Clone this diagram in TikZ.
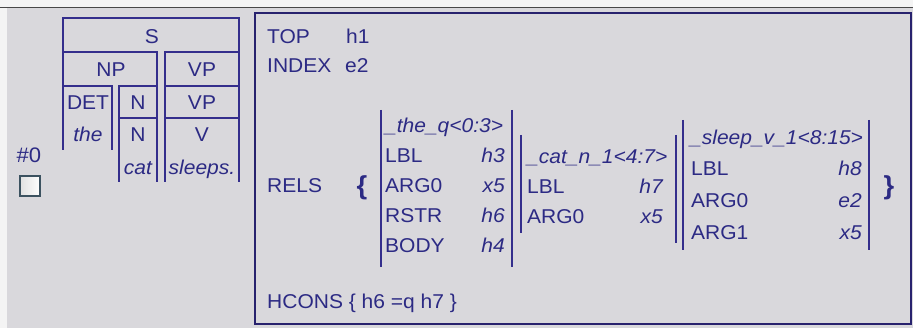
\documentclass[tikz,border=0pt]{standalone}
\usepackage{fontspec}
\setmainfont[FakeStretch=1.05]{Liberation Sans}
\definecolor{ink}{RGB}{44,42,132}
\definecolor{rulec}{RGB}{52,46,140}
\definecolor{framec}{RGB}{40,34,110}
\definecolor{panel}{RGB}{217,216,220}
\definecolor{edge}{RGB}{244,244,244}
\definecolor{topline}{RGB}{72,72,72}
\definecolor{boxline}{RGB}{60,82,96}
\begin{document}
\begin{tikzpicture}[x=1pt,y=-1pt,
  txt/.style={inner sep=0pt, text=ink, font=\fontsize{20}{22}\selectfont, anchor=base west},
  ttl/.style={txt, font=\fontsize{20}{22}\selectfont\itshape},
  val/.style={txt, font=\fontsize{20}{22}\selectfont\itshape, anchor=base east},
  cat/.style={txt, anchor=base},
  word/.style={txt, font=\fontsize{20}{22}\selectfont\itshape, anchor=base},
  brace/.style={inner sep=0pt, text=ink, font=\fontsize{26}{28}\selectfont\bfseries},
  treeline/.style={draw=rulec, line width=1.6pt},
  epline/.style={draw=rulec, line width=1.6pt}]
\useasboundingbox (0,0) rectangle (913,328);
% window background
\fill[edge] (0,0) rectangle (913,328);
\fill[panel] (7,8) rectangle (913,328);
\draw[topline, line width=1.5pt] (0,7.5) -- (913,7.5);

% result number and selection box
\node[txt, font=\fontsize{21}{24}\selectfont, anchor=base] (num) at (29,163) {\#0};
\shade[left color=black!12, right color=white, draw=boxline, line width=1.4pt]
  (20,176) rectangle (40,196);

% parse tree
\draw[treeline] (63,150) -- (63,18) -- (239,18) -- (239,182);
\draw[treeline] (63,52) -- (157,52) -- (157,182);
\draw[treeline] (165,182) -- (165,52) -- (239,52);
\draw[treeline] (63,86) -- (112,86) -- (112,150);
\draw[treeline] (119,182) -- (119,86) -- (157,86);
\draw[treeline] (165,86) -- (239,86);
\draw[treeline] (119,118) -- (157,118);
\draw[treeline] (165,118) -- (239,118);
\node[cat] (s) at (152,44) {S};
\node[cat] (np) at (111,77) {NP};
\node[cat] (vp) at (202,77) {VP};
\node[cat] (det) at (88,110) {DET};
\node[cat] (n1) at (138,110) {N};
\node[cat] (vp2) at (202,110) {VP};
\node[word] (the) at (88,142) {the};
\node[cat] (n2) at (138,142) {N};
\node[cat] (v) at (202,142) {V};
\node[word] (catw) at (138,175) {cat};
\node[word] (sleeps) at (202,175) {sleeps.};

% semantic structure frame
\draw[framec, line width=2pt] (255,13) rectangle (911,324);
\node[txt] (top) at (267,43.5) {TOP};
\node[txt] (topv) at (346,43.5) {h1};
\node[txt] (index) at (267,73) {INDEX};
\node[txt] (indexv) at (345,73) {e2};
\node[txt] (rels) at (267,193) {RELS};
\node[brace] (lbrace) at (362,188) {\{};
\node[brace] (rbrace) at (889,188) {\}};
\node[txt] (hcons) at (267,309) {HCONS \{ h6 =q h7 \}};

% _the_q
\draw[epline] (381,110) -- (381,267);
\draw[epline] (512,110) -- (512,267);
\node[ttl] (q) at (385,133) {\_the\_q<0:3>};
\node[txt] (qa) at (385,163) {LBL};
\node[val] (qav) at (505,163) {h3};
\node[txt] (qb) at (385,193) {ARG0};
\node[val] (qbv) at (505,193) {x5};
\node[txt] (qc) at (385,223) {RSTR};
\node[val] (qcv) at (505,223) {h6};
\node[txt] (qd) at (385,253) {BODY};
\node[val] (qdv) at (505,253) {h4};

% _cat_n_1
\draw[epline] (521,135) -- (521,233);
\draw[epline] (676,135) -- (676,243);
\node[ttl] (c) at (527,163.5) {\_cat\_n\_1<4:7>};
\node[txt] (ca) at (527,194) {LBL};
\node[val] (cav) at (663,194) {h7};
\node[txt] (cb) at (527,224) {ARG0};
\node[val] (cbv) at (663,224) {x5};

% _sleep_v_1
\draw[epline] (683,120) -- (683,250);
\draw[epline] (869,120) -- (869,250);
\node[ttl] (sl) at (690,144.5) {\_sleep\_v\_1<8:15>};
\node[txt] (sla) at (691,176) {LBL};
\node[val] (slav) at (862,176) {h8};
\node[txt] (slb) at (691,208) {ARG0};
\node[val] (slbv) at (862,208) {e2};
\node[txt] (slc) at (691,240) {ARG1};
\node[val] (slcv) at (862,240) {x5};
\end{tikzpicture}
\end{document}
